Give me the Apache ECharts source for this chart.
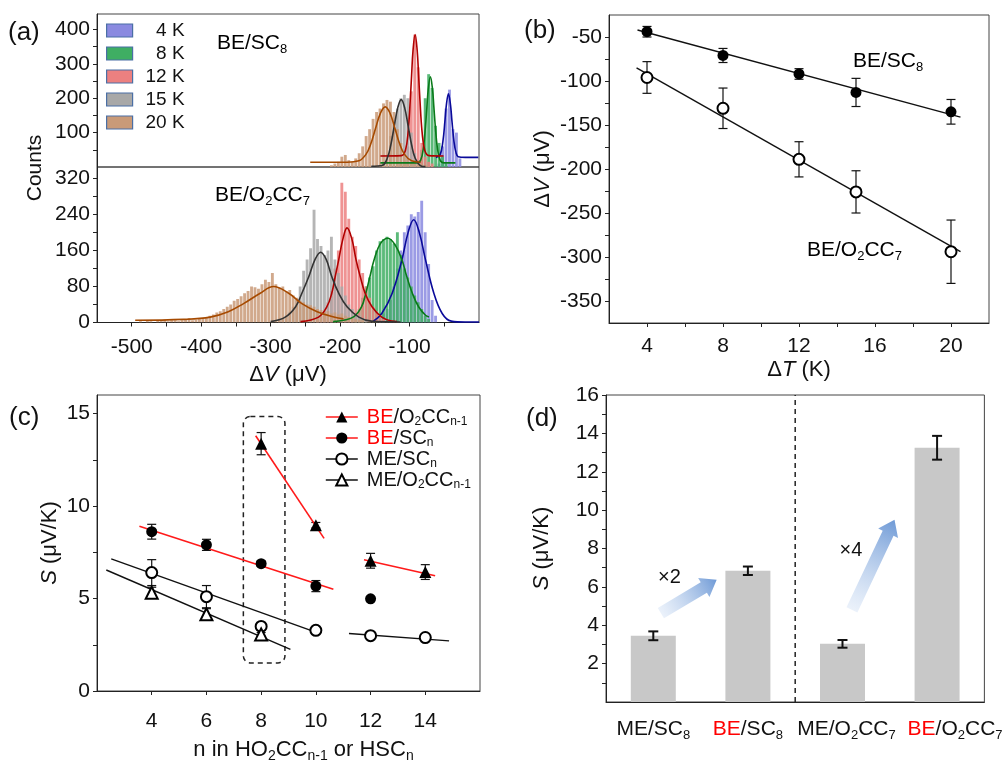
<!DOCTYPE html>
<html>
<head>
<meta charset="utf-8">
<title>thermopower</title>
<script src="https://cdn.jsdelivr.net/npm/echarts@6/dist/echarts.min.js"></script>
<style>
  html, body { margin: 0; padding: 0; background: #fff; }
  #main { width: 1005px; height: 764px; }
</style>
</head>
<body>
<div id="main"></div>
<script>
var FONT = '"Liberation Sans", Arial, sans-serif';

// ---------- (a) histograms, 5 uV bins: centre of first bin + counts ----------
var BIN = 5;
var tempNames = ['4 K', '8 K', '12 K', '15 K', '20 K'];

var sc8Start = [-57.5, -112.5, -112.5, -137.5, -212.5];
var sc8Hist4K = [10, 60, 170, 225, 110, 100, 25];
var sc8Hist8K = [8, 10, 12, 10, 12, 15, 50, 200, 270, 230, 120, 70, 30, 10];
var sc8Hist12K = [10, 20, 60, 220, 385, 290, 70, 30, 15, 10];
var sc8Hist15K = [15, 30, 90, 130, 170, 200, 210, 200, 100, 40, 15];
var sc8Hist20K = [5, 10, 15, 30, 35, 20, 15, 25, 40, 60, 90, 110, 140, 160, 170, 185, 195, 190, 160, 110, 70, 40, 25, 15, 10, 10, 8, 5];

var oc7Start = [-142.5, -177.5, -232.5, -287.5, -487.5];
var oc7Hist4K = [10, 20, 30, 50, 80, 120, 160, 200, 215, 240, 235, 245, 270, 200, 130, 50, 15];
var oc7Hist8K = [15, 30, 55, 80, 100, 125, 160, 180, 185, 190, 185, 175, 200, 150, 120, 100, 80, 60, 45, 30, 15, 8];
var oc7Hist12K = [8, 15, 25, 45, 70, 120, 160, 310, 290, 230, 190, 170, 140, 110, 80, 55, 35, 25, 15, 8];
var oc7Hist15K = [5, 10, 15, 22, 35, 50, 80, 115, 140, 165, 250, 185, 170, 150, 160, 190, 140, 110, 80, 60, 40, 30, 20, 15, 10, 6];
var oc7Hist20K = [3, 0, 4, 3, 0, 5, 4, 6, 3, 5, 5, 3, 5, 8, 10, 5, 6, 8, 10, 12, 15, 18, 22, 25, 30, 35, 40, 48, 52, 58, 65, 70, 80, 78, 75, 85, 95, 90, 110, 85, 78, 80, 70, 72, 60, 55, 48, 45, 40, 38, 35, 30, 28, 25, 25, 20, 22, 18, 20, 15, 12, 10, 8, 6, 5];

// fitted curves, points [uV, counts]
var sc8Fit4K = [[-62, 28], [-56, 36], [-52, 74], [-49, 135], [-47, 180], [-44, 213], [-41, 180], [-39, 135], [-36, 74], [-33, 41], [-30, 30], [-20, 28], [-1, 28]];
var sc8Fit8K = [[-142, 12], [-90, 12], [-84, 20], [-80, 57], [-77, 120], [-75, 175], [-73, 227], [-70, 262], [-67, 227], [-65, 175], [-63, 120], [-60, 57], [-56, 20], [-50, 12], [-34, 12]];
var sc8Fit12K = [[-142, 32], [-112, 33], [-106, 48], [-102, 103], [-99, 194], [-97, 268], [-95, 339], [-92, 385], [-89, 339], [-87, 268], [-85, 194], [-82, 103], [-78, 48], [-72, 33], [-51, 32]];
var sc8Fit15K = [[-155, 2], [-139, 5], [-132, 26], [-127, 64], [-122, 119], [-117, 172], [-112, 196], [-107, 172], [-102, 119], [-97, 64], [-92, 26], [-85, 5], [-77, 1]];
var sc8Fit20K = [[-243, 14], [-190, 14], [-173, 18], [-163, 36], [-156, 66], [-149, 112], [-142, 156], [-135, 175], [-128, 156], [-121, 112], [-114, 66], [-107, 36], [-97, 18], [-84, 14]];

var oc7Fit4K = [[-152, 3], [-140, 20], [-125, 65], [-111, 139], [-102, 200], [-94, 228], [-86, 200], [-77, 139], [-65, 65], [-53, 20], [-40, 3], [-20, 1], [0, 1]];
var oc7Fit8K = [[-210, 2], [-195, 5], [-180, 13], [-169, 35], [-163, 65], [-157, 102], [-151, 139], [-142, 175], [-131, 187], [-120, 170], [-111, 139], [-104, 102], [-96, 65], [-87, 35], [-77, 16], [-72, 12]];
var oc7Fit12K = [[-257, 2], [-231, 12], [-219, 35], [-212, 65], [-207, 102], [-202, 139], [-196, 185], [-190, 210], [-183, 185], [-177, 139], [-171, 102], [-164, 65], [-154, 35], [-140, 12], [-125, 3], [-118, 2]];
var oc7Fit15K = [[-300, 2], [-279, 12], [-264, 35], [-255, 65], [-245, 102], [-236, 140], [-228, 156], [-220, 140], [-212, 102], [-202, 65], [-190, 35], [-173, 12], [-155, 3], [-113, 1]];
var oc7Fit20K = [[-495, 5], [-425, 7], [-387, 12], [-361, 24], [-339, 42], [-315, 65], [-296, 80], [-274, 65], [-255, 42], [-233, 24], [-209, 12], [-195, 8]];

var aXLabels = [-500, -400, -300, -200, -100];
var aTopLabels = [100, 200, 300, 400];
var aBotLabels = [0, 80, 160, 240, 320];

// ---------- (b) dV vs dT ----------
var dT = [4, 8, 12, 15, 20];
var sc8V = [-44, -71, -92, -113, -135];
var sc8Err = [6, 8, 6, 16, 14];
var oc7V = [-96, -131, -189, -226, -294];
var oc7Err = [18, 23, 20, 24, 36];
var sc8Line = [[3.5, -42], [20.5, -141]];
var oc7Line = [[3.45, -85], [20.5, -294]];
var bXLabels = [4, 8, 12, 16, 20];
var bYLabels = [-350, -300, -250, -200, -150, -100, -50];

// ---------- (c) S vs n ----------
var beOcN = [8, 10, 12, 14];
var beOcS = [13.37, 8.96, 7.04, 6.43];
var beOcErr = [0.6, 0.15, 0.4, 0.4];
var beScN = [4, 6, 8, 10, 12];
var beScS = [8.61, 7.9, 6.88, 5.67, 4.98];
var beScErr = [0.4, 0.3, 0.15, 0.3, 0];
var meScN = [4, 6, 8, 10, 12, 14];
var meScS = [6.4, 5.1, 3.49, 3.28, 2.99, 2.89];
var meScErr = [0.7, 0.6, 0.2, 0.15, 0.1, 0.15];
var meOcN = [4, 6, 8];
var meOcS = [5.31, 4.15, 3.06];
var meOcErr = [0.3, 0.3, 0.1];
var beOcLineA = [[7.8, 13.8], [10.3, 8.25]];
var beOcLineB = [[11.76, 7.09], [14.36, 6.23]];
var beScLine = [[3.55, 8.9], [10.64, 5.5]];
var meScLineA = [[2.52, 7.14], [10.12, 3.11]];
var meScLineB = [[11.21, 3.11], [14.87, 2.71]];
var meOcLine = [[2.34, 6.54], [9.07, 2.25]];
var cBox = [[7.35, 1.52, 8.87, 14.84]];
var cNames = ['BE/O_2CC_{n-1}', 'BE/SC_n', 'ME/SC_n', 'ME/O_2CC_{n-1}'];
var cXLabels = [4, 6, 8, 10, 12, 14];
var cYLabels = [0, 5, 10, 15];

// ---------- (d) bars ----------
var dCats = ['ME/SC_8', 'BE/SC_8', 'ME/O_2CC_7', 'BE/O_2CC_7'];
var dVals = [3.45, 6.84, 3.03, 13.25];
var dErr = [0.23, 0.22, 0.2, 0.62];
var dArrows = [[0.58, 4.63, 1.17, 6.37], [2.6, 4.8, 3.05, 9.5]];
var dRatios = [['×2', 0.67, 6.5], ['×4', 2.59, 7.9]];
var dSplit = [[2, 0, 16]];
var dYLabels = [2, 4, 6, 8, 10, 12, 14, 16];

// ---------- helpers ----------
var TICK = 21;   // tick label size
var NAME = 22;   // axis title size

function steps(a, b, d) {
  var out = [];
  for (var v = a; v <= b + 1e-9; v += d) out.push(+v.toFixed(4));
  return out;
}
function bins(start, counts) {
  return counts.map(function (c, i) { return [start + i * BIN, c]; });
}
function zip3(xs, ys, es) {
  return xs.map(function (x, i) { return [x, ys[i], es ? es[i] : 0]; });
}
function pairs(xs, ys) {
  return xs.map(function (x, i) { return [x, ys[i]]; });
}
function rich(size, lh) {
  var sub = Math.round(size * 0.62);
  lh = lh || size + 4;
  return {
    n: { fontSize: size, lineHeight: lh, fontFamily: FONT, color: '#111' },
    i: { fontSize: size, lineHeight: lh, fontFamily: FONT, color: '#111', fontStyle: 'italic' },
    r: { fontSize: size, lineHeight: lh, fontFamily: FONT, color: '#ff0000' },
    s: { fontSize: sub, lineHeight: sub + 1, fontFamily: FONT, color: '#111', verticalAlign: 'bottom' },
    gap: { width: 1, lineHeight: lh }
  };
}
// "BE/O_2CC_{n-1}" -> rich text with red BE and subscripts
function richName(s) {
  var out = '';
  if (s.indexOf('BE') === 0) { out += '{r|BE}'; s = s.slice(2); }
  var re = /_\{([^}]*)\}|_(.)|([^_]+)/g, m;
  while ((m = re.exec(s))) {
    if (m[1] !== undefined) out += '{s|' + m[1] + '}';
    else if (m[2] !== undefined) out += '{s|' + m[2] + '}';
    else out += '{n|' + m[3] + '}';
  }
  return out;
}

function valueAxis(grid, min, max, labels, ticks, margin) {
  return {
    type: 'value', gridIndex: grid, min: min, max: max,
    splitLine: { show: false },
    axisLine: { show: true, onZero: false, lineStyle: { color: '#222', width: 1 } },
    axisTick: { show: true, customValues: ticks, length: 4, lineStyle: { color: '#222' } },
    axisLabel: { customValues: labels, fontSize: TICK, color: '#111', fontFamily: FONT, margin: margin }
  };
}
function axisName(axis, text, gap, pad) {
  axis.name = text;
  axis.nameLocation = 'middle';
  axis.nameGap = gap;
  axis.nameTextStyle = { rich: rich(NAME), padding: pad || 0 };
  return axis;
}

// opaque tints, multiplied where histograms overlap
var histColors = ['#8a8ae0', '#3fae63', '#ec8080', '#a8a8a8', '#c99a78'];
var fitColors = ['#0a0a9a', '#0a7a1a', '#b00000', '#333333', '#a64a00'];

function histSeries(xi, yi, idx, data) {
  return {
    type: 'custom', name: tempNames[idx], xAxisIndex: xi, yAxisIndex: yi,
    data: data, clip: true, silent: true, z: 2,
    itemStyle: { color: histColors[idx] },
    renderItem: function (params, api) {
      var x = api.value(0), c = api.value(1);
      var p0 = api.coord([x - BIN / 2, 0]), p1 = api.coord([x + BIN / 2, c]);
      return {
        type: 'rect',
        shape: { x: p0[0] + 0.3, y: p1[1], width: Math.max(p1[0] - p0[0] - 0.6, 0.5), height: p0[1] - p1[1] },
        style: { fill: api.visual('color'), blend: 'multiply', opacity: 0.85 }
      };
    }
  };
}
function curve(xi, yi, data, color) {
  return {
    type: 'line', xAxisIndex: xi, yAxisIndex: yi, data: data, symbol: 'none',
    smooth: 0.4, silent: true, z: 4, lineStyle: { color: color, width: 1.6 }
  };
}
function segment(xi, yi, data, color, width) {
  return {
    type: 'line', xAxisIndex: xi, yAxisIndex: yi, data: data, symbol: 'none',
    silent: true, z: 3, lineStyle: { color: color, width: width }
  };
}
function errorBars(xi, yi, data, cap, width) {
  return {
    type: 'custom', xAxisIndex: xi, yAxisIndex: yi, data: data, z: 3, silent: true,
    renderItem: function (params, api) {
      var x = api.value(0), y = api.value(1), e = api.value(2);
      if (!e) return { type: 'group', children: [] };
      var hi = api.coord([x, y + e]), lo = api.coord([x, y - e]);
      var st = { stroke: '#111', lineWidth: width };
      return {
        type: 'group', children: [
          { type: 'line', shape: { x1: hi[0], y1: hi[1], x2: lo[0], y2: lo[1] }, style: st },
          { type: 'line', shape: { x1: hi[0] - cap, y1: hi[1], x2: hi[0] + cap, y2: hi[1] }, style: st },
          { type: 'line', shape: { x1: lo[0] - cap, y1: lo[1], x2: lo[0] + cap, y2: lo[1] }, style: st }
        ]
      };
    }
  };
}
function points(xi, yi, name, data, symbol, size) {
  return {
    type: 'line', name: name, xAxisIndex: xi, yAxisIndex: yi, data: data,
    symbol: symbol, symbolSize: size, showSymbol: true, silent: true, z: 5,
    lineStyle: { width: 0, opacity: 0 },
    itemStyle: { color: '#000', borderWidth: 1.3 }
  };
}

// ---------- series ----------
var series = [];
var sc8Hists = [sc8Hist4K, sc8Hist8K, sc8Hist12K, sc8Hist15K, sc8Hist20K];
var oc7Hists = [oc7Hist4K, oc7Hist8K, oc7Hist12K, oc7Hist15K, oc7Hist20K];
var sc8Fits = [sc8Fit4K, sc8Fit8K, sc8Fit12K, sc8Fit15K, sc8Fit20K];
var oc7Fits = [oc7Fit4K, oc7Fit8K, oc7Fit12K, oc7Fit15K, oc7Fit20K];
for (var k = 0; k < 5; k++) {
  series.push(histSeries(0, 0, k, bins(sc8Start[k], sc8Hists[k])));
  series.push(histSeries(1, 1, k, bins(oc7Start[k], oc7Hists[k])));
}
for (k = 0; k < 5; k++) {
  series.push(curve(0, 0, sc8Fits[k], fitColors[k]));
  series.push(curve(1, 1, oc7Fits[k], fitColors[k]));
}

// (b)
series.push(segment(2, 2, sc8Line, '#111', 1.4));
series.push(segment(2, 2, oc7Line, '#111', 1.4));
series.push(errorBars(2, 2, zip3(dT, sc8V, sc8Err), 4.5, 1.2));
series.push(errorBars(2, 2, zip3(dT, oc7V, oc7Err), 4.5, 1.2));
series.push(points(2, 2, 'sc8', pairs(dT, sc8V), 'circle', 11));
series.push(points(2, 2, 'oc7', pairs(dT, oc7V), 'emptyCircle', 11));

// (c)
series.push(segment(3, 3, beOcLineA, '#ff1a1a', 1.6));
series.push(segment(3, 3, beOcLineB, '#ff1a1a', 1.6));
series.push(segment(3, 3, beScLine, '#ff1a1a', 1.6));
series.push(segment(3, 3, meScLineA, '#111', 1.4));
series.push(segment(3, 3, meScLineB, '#111', 1.4));
series.push(segment(3, 3, meOcLine, '#111', 1.4));
series.push(errorBars(3, 3, zip3(beOcN, beOcS, beOcErr), 4.5, 1.2));
series.push(errorBars(3, 3, zip3(beScN, beScS, beScErr), 4.5, 1.2));
series.push(errorBars(3, 3, zip3(meScN, meScS, meScErr), 4.5, 1.2));
series.push(errorBars(3, 3, zip3(meOcN, meOcS, meOcErr), 4.5, 1.2));
series.push(points(3, 3, cNames[0], pairs(beOcN, beOcS), 'triangle', 12));
series.push(points(3, 3, cNames[1], pairs(beScN, beScS), 'circle', 11));
series.push(points(3, 3, cNames[2], pairs(meScN, meScS), 'emptyCircle', 11));
series.push(points(3, 3, cNames[3], pairs(meOcN, meOcS), 'emptyTriangle', 12));
series.push({
  type: 'custom', xAxisIndex: 3, yAxisIndex: 3, data: cBox, silent: true, z: 2,
  renderItem: function (params, api) {
    var a = api.coord([api.value(0), api.value(3)]), b = api.coord([api.value(2), api.value(1)]);
    return {
      type: 'rect', shape: { x: a[0], y: a[1], width: b[0] - a[0], height: b[1] - a[1], r: 7 },
      style: { fill: 'none', stroke: '#222', lineWidth: 1.5, lineDash: [5, 4] }
    };
  }
});

// (d)
series.push({
  type: 'bar', xAxisIndex: 4, yAxisIndex: 4, data: dVals, barWidth: 45, silent: true,
  itemStyle: { color: '#c8c8c8' }, z: 2
});
series.push(errorBars(4, 4, zip3([0, 1, 2, 3], dVals, dErr), 5, 2));
series.push({
  type: 'custom', xAxisIndex: 5, yAxisIndex: 4, data: dSplit, silent: true, z: 3, clip: false,
  renderItem: function (params, api) {
    var a = api.coord([api.value(0), api.value(1)]), b = api.coord([api.value(0), api.value(2)]);
    return { type: 'line', shape: { x1: a[0], y1: a[1], x2: b[0], y2: b[1] }, style: { stroke: '#222', lineWidth: 1.5, lineDash: [5, 4] } };
  }
});
series.push({
  type: 'custom', xAxisIndex: 5, yAxisIndex: 4, data: dArrows, silent: true, z: 4, clip: false,
  renderItem: function (params, api) {
    var s = api.coord([api.value(0), api.value(1)]), e = api.coord([api.value(2), api.value(3)]);
    var dx = e[0] - s[0], dy = e[1] - s[1], L = Math.sqrt(dx * dx + dy * dy);
    var ux = dx / L, uy = dy / L, nx = -uy, ny = ux;
    var w1 = 6, w2 = 11, h = 15;
    var bx = e[0] - ux * h, by = e[1] - uy * h;
    var pts = [
      [s[0] + nx * w1, s[1] + ny * w1], [bx + nx * w1, by + ny * w1], [bx + nx * w2, by + ny * w2],
      [e[0], e[1]],
      [bx - nx * w2, by - ny * w2], [bx - nx * w1, by - ny * w1], [s[0] - nx * w1, s[1] - ny * w1]
    ];
    return {
      type: 'polygon', shape: { points: pts },
      style: {
        fill: new echarts.graphic.LinearGradient(s[0], s[1], e[0], e[1], [
          { offset: 0, color: 'rgba(215,228,246,0.5)' },
          { offset: 1, color: '#6f9ad6' }
        ], true)
      }
    };
  }
});
series.push({
  type: 'custom', xAxisIndex: 5, yAxisIndex: 4, data: dRatios, silent: true, z: 5, clip: false,
  dimensions: ['t', 'x', 'y'], encode: { x: 1, y: 2 },
  renderItem: function (params, api) {
    var p = api.coord([api.value(1), api.value(2)]);
    return { type: 'text', x: p[0], y: p[1], style: { text: dRatios[params.dataIndex][0], fontSize: 20, fontFamily: FONT, fill: '#111', align: 'center', verticalAlign: 'middle' } };
  }
});

// ---------- option ----------
var gridBox = { show: true, borderColor: '#444', borderWidth: 1, backgroundColor: 'transparent' };
function grid(l, t, w, h) { return Object.assign({ left: l, top: t, width: w, height: h }, gridBox); }

var aTop = valueAxis(0, -550, 0, [], [], 8); aTop.show = false;
var aBotX = axisName(valueAxis(1, -550, 0, aXLabels, steps(-500, -50, 50), 14), '{n|Δ}{i|V}{n| (μV)}', 39);
var bX = axisName(valueAxis(2, 2, 22, bXLabels, steps(4, 20, 2), 13), '{n|Δ}{i|T}{n| (K)}', 34);
var cX = axisName(valueAxis(3, 2, 16, cXLabels, cXLabels, 20), richName('n in HO_2CC_{n-1} or HSC_n'), 46, [0, 0, 0, 30]);
// the two right-hand category labels sit a little right of their bars
var dLabelShift = [0, 0, 8, 36];
var dX = {
  type: 'category', gridIndex: 4, data: dCats,
  axisLine: { lineStyle: { color: '#222' } }, axisTick: { show: false },
  axisLabel: {
    margin: 15, interval: 0, rich: rich(TICK),
    formatter: function (v, i) {
      var pad = dLabelShift[i] ? '{p' + i + '|}' : '';
      return pad + richName(v);
    }
  }
};
dLabelShift.forEach(function (w, i) { if (w) dX.axisLabel.rich['p' + i] = { width: w, lineHeight: TICK + 4 }; });
var dXv = { type: 'value', gridIndex: 4, min: 0, max: 4, show: false };

var aTopY = valueAxis(0, 0, 445, aTopLabels, steps(50, 400, 50), 7);
var aBotY = valueAxis(1, 0, 345, aBotLabels, steps(0, 320, 40), 7);
var bY = axisName(valueAxis(2, -375, -25, bYLabels, steps(-350, -50, 25), 7), '{n|Δ}{i|V}{n| (μV)}', 53);
var cY = axisName(valueAxis(3, 0, 16, cYLabels, steps(0, 15, 2.5), 7), '{i|S}{n| (μV/K)}', 34);
var dY = axisName(valueAxis(4, 0, 16, dYLabels, steps(1, 16, 1), 7), '{i|S}{n| (μV/K)}', 51);

function label(x, y, text, size) {
  return { type: 'text', x: x, y: y, z: 10, style: { text: text, fontSize: size, fontFamily: FONT, fill: '#111', verticalAlign: 'middle' } };
}
function richLabel(x, y, text) {
  return { type: 'text', x: x, y: y, z: 10, style: { text: richName(text), rich: rich(21), verticalAlign: 'middle' } };
}

var option = {
  backgroundColor: '#fff',
  animation: false,
  textStyle: { fontFamily: FONT },
  grid: [
    grid(97, 14, 382, 153),
    grid(97, 167, 382, 155.5),
    grid(609, 15, 380, 308),
    grid(97, 395, 383, 308),
    grid(606, 395, 383, 307)
  ],
  xAxis: [aTop, aBotX, bX, cX, dX, dXv],
  yAxis: [aTopY, aBotY, bY, cY, dY],
  legend: [
    {
      data: tempNames.map(function (n) { return { name: n, itemStyle: { borderColor: '#4a6fa5', borderWidth: 1.2 } }; }),
      orient: 'vertical', left: 101, top: 16, icon: 'rect',
      itemWidth: 26, itemHeight: 13, itemGap: 4, selectedMode: false,
      formatter: function (n) { return '{t|' + n + '}'; },
      textStyle: { rich: { t: { width: 47, align: 'right', fontSize: 19, lineHeight: 20, fontFamily: FONT, color: '#111' } } }
    },
    {
      data: cNames.map(function (n, i) {
        return { name: n, lineStyle: { color: i < 2 ? '#ff1a1a' : '#111', width: 1.6, opacity: 1 } };
      }),
      orient: 'vertical', left: 320, top: 402,
      itemWidth: 32, itemHeight: 14, itemGap: 0, selectedMode: false,
      formatter: function (n) { return richName(n); },
      textStyle: { rich: rich(20, 22), padding: [0, 0, 0, 4] }
    }
  ],
  graphic: [
    label(8, 33, '(a)', 26),
    label(524, 31, '(b)', 26),
    label(9, 418, '(c)', 26),
    label(526, 419, '(d)', 26),
    { type: 'text', x: 35, y: 168, rotation: Math.PI / 2, z: 10,
      style: { text: 'Counts', fontSize: 21, fontFamily: FONT, fill: '#111', align: 'center', verticalAlign: 'middle' } },
    richLabel(217, 43, 'BE/SC_8'),
    richLabel(215, 195, 'BE/O_2CC_7'),
    richLabel(853, 61, 'BE/SC_8'),
    richLabel(807, 250, 'BE/O_2CC_7')
  ],
  series: series
};

var myChart = echarts.init(document.getElementById('main'), null, { renderer: 'canvas' });
myChart.setOption(option);
</script>
</body>
</html>
